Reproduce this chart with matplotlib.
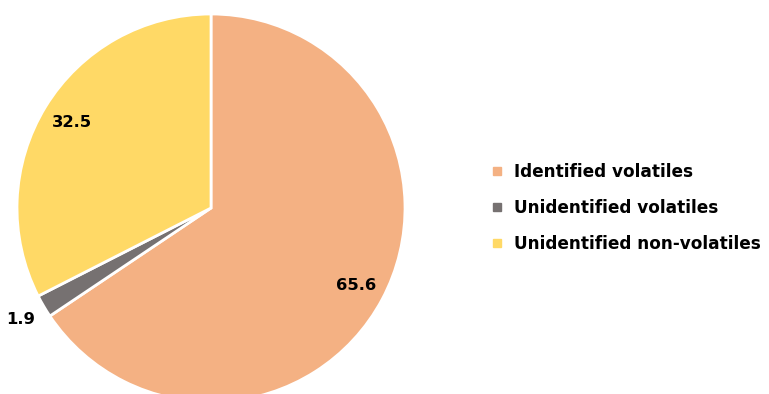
import numpy as np
import matplotlib.pyplot as plt
from matplotlib.lines import Line2D

# Datos
categories = ['Identified volatiles', 'Unidentified volatiles', 'Unidentified non-volatiles']
values = [65.6, 1.9, 32.5]
colors = ['#F4B183', '#767171', '#FFD966']
label_dist = [0.85, 1.14, 0.84]

fig = plt.figure(figsize=(7.69, 3.94), dpi=100)
ax = fig.add_axes([0.0221, -0.0203, 0.5046, 0.9848])

wedges, _ = ax.pie(values, colors=colors, startangle=90, counterclock=False,
                   wedgeprops=dict(edgecolor='white', linewidth=2))
ax.set_xlim(-1, 1)
ax.set_ylim(-1, 1)
ax.set_aspect('equal')

for w, v, d in zip(wedges, values, label_dist):
    ang = np.deg2rad((w.theta1 + w.theta2) / 2)
    ax.text(d * np.cos(ang), d * np.sin(ang), f"{v:.1f}", ha='center', va='center',
            fontsize=11.8, fontweight='bold', color='black', clip_on=False)

handles = [Line2D([], [], marker='s', linestyle='', markersize=6,
                  markerfacecolor=c, markeredgecolor=c) for c in colors]
fig.legend(handles, categories, loc='center left', bbox_to_anchor=(0.616, 0.472),
           frameon=False, prop=dict(size=12.2, weight='bold'), handletextpad=0.5,
           labelspacing=1.04, handlelength=1.0)

fig.savefig('out.png', dpi=100)
